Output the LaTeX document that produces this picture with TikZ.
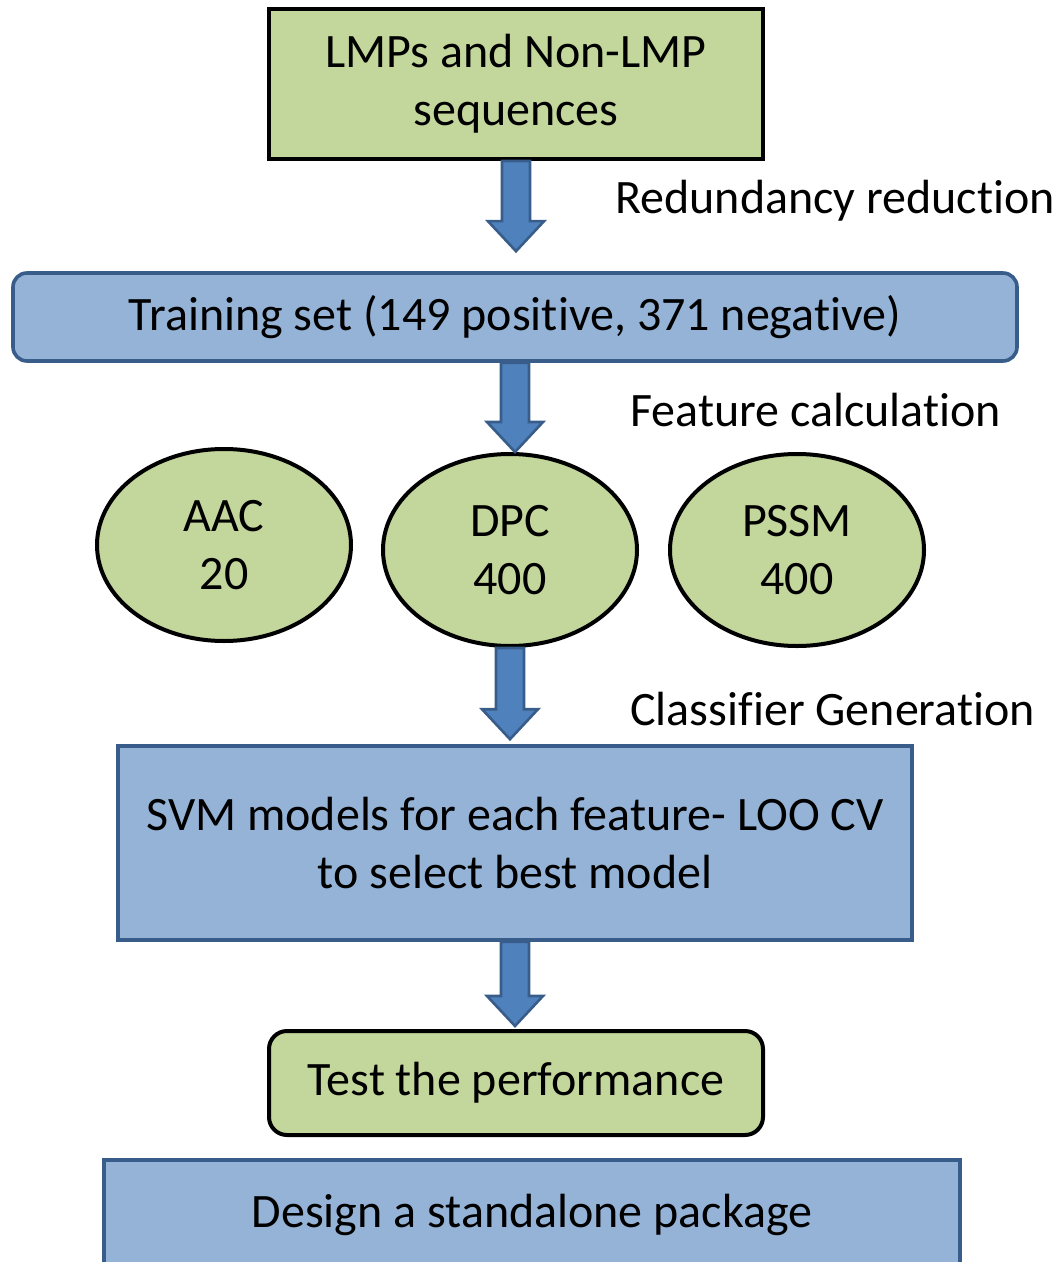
\documentclass[tikz,border=0pt]{standalone}
\usepackage{fontspec}
\setmainfont{Carlito}[Ligatures=NoCommon]
\usetikzlibrary{calc,shapes.geometric}
\definecolor{LeafGreen}{HTML}{C3D69B}
\definecolor{PaleBlue}{HTML}{95B3D7}
\definecolor{DeepBlue}{HTML}{385D8A}
\definecolor{ArrowBlue}{HTML}{4F81BD}

% wide block arrow from the bottom of #2 down to the top of #3, stopping #1 short
\newcommand{\blockarrow}[3][0]{%
  \coordinate (s) at (#2.south);
  \coordinate (e) at ($(#2.south|-#3.north)+(0,-#1)$);
  \draw[fatarrow] ($(s)+(-14,0)$) -- ($(e)+(-14,-30)$) -- ($(e)+(-28,-30)$) -- (e)
    -- ($(e)+(28,-30)$) -- ($(e)+(14,-30)$) -- ($(s)+(14,0)$) -- cycle;
}

\begin{document}
\begin{tikzpicture}[x=0.5pt,y=-0.5pt,
  txt/.style={font=\fontsize{24}{29}\selectfont,align=center,inner sep=0pt},
  greenbox/.style={txt,draw=black,fill=LeafGreen,line width=2pt},
  bluebox/.style={txt,draw=DeepBlue,fill=PaleBlue,line width=1.8pt},
  oval/.style={txt,ellipse,draw=black,fill=LeafGreen,line width=2pt,minimum width=127pt,minimum height=96pt},
  fatarrow/.style={draw=DeepBlue,fill=ArrowBlue,line width=1.3pt},
  sidenote/.style={txt,anchor=west}
]
\clip (0,0) rectangle (1058,1262);
\node[greenbox,minimum width=247pt,minimum height=75pt] (seqs) at (516,84) {LMPs and Non-LMP\\sequences};
\node[bluebox,rounded corners=7pt,minimum width=502pt,minimum height=44pt] (train) at (515,317) {Training set (149 positive, 371 negative)};
\node[oval] (aac) at (224,545) {AAC\\20};
\node[oval] (dpc) at (510,550) {DPC\\400};
\node[oval] (pssm) at (797,550) {PSSM\\400};
\node[bluebox,minimum width=397pt,minimum height=97pt] (svm) at (515,843) {SVM models for each feature- LOO CV\\to select best model};
\node[greenbox,rounded corners=9pt,minimum width=247pt,minimum height=52pt] (test) at (516,1083) {Test the performance};
\node[bluebox,minimum width=428pt,minimum height=55pt] (pkg) at (532,1215) {Design a standalone package};

\node[sidenote] (redu) at (615,201) {Redundancy reduction};
\node[sidenote] (feat) at (630,410) {Feature calculation};
\node[sidenote] (clsf) at (630,709) {Classifier Generation};

\blockarrow[20]{seqs}{train}
\blockarrow{train}{dpc}
\blockarrow[5]{dpc}{svm}
\blockarrow[3]{svm}{test}
\end{tikzpicture}
\end{document}
